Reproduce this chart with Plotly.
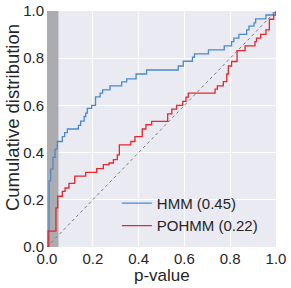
import plotly.graph_objects as go

# HMM empirical CDF of p-values (step positions and cumulative values)
hmm_p = [0.0, 0.009, 0.016, 0.026, 0.035, 0.045, 0.067, 0.077, 0.089, 0.137, 0.147,
         0.162, 0.169, 0.176, 0.195, 0.212, 0.232, 0.243, 0.275, 0.326, 0.348,
         0.389, 0.435, 0.573, 0.595, 0.635, 0.644, 0.705, 0.774, 0.806, 0.816,
         0.838, 0.872, 0.882, 0.904, 0.911, 0.956, 0.988, 1.0]
hmm_cdf = [0.0, 0.28, 0.33, 0.38, 0.415, 0.447, 0.468, 0.485, 0.50, 0.515, 0.533,
           0.553, 0.567, 0.587, 0.60, 0.636, 0.652, 0.666, 0.683, 0.70, 0.712,
           0.733, 0.75, 0.767, 0.787, 0.804, 0.818, 0.835, 0.852, 0.870, 0.885,
           0.901, 0.92, 0.936, 0.95, 0.967, 0.983, 0.992, 1.0]

# POHMM empirical CDF of p-values
pohmm_p = [0.0, 0.005, 0.039, 0.047, 0.067, 0.079, 0.096, 0.121, 0.169, 0.217, 0.246,
           0.271, 0.29, 0.307, 0.316, 0.366, 0.384, 0.416, 0.432, 0.457, 0.527,
           0.545, 0.566, 0.593, 0.607, 0.617, 0.734, 0.744, 0.770, 0.785, 0.792,
           0.806, 0.830, 0.865, 0.908, 0.915, 0.933, 0.956, 0.971, 0.99, 1.0]
pohmm_cdf = [0.0, 0.067, 0.166, 0.215, 0.236, 0.25, 0.27, 0.30, 0.316, 0.332, 0.349,
             0.356, 0.37, 0.39, 0.433, 0.447, 0.468, 0.50, 0.518, 0.532, 0.564,
             0.584, 0.60, 0.617, 0.635, 0.652, 0.669, 0.683, 0.701, 0.733, 0.767,
             0.786, 0.832, 0.852, 0.870, 0.885, 0.901, 0.92, 0.965, 0.983, 1.0]

legend_names = ["HMM (0.45)", "POHMM (0.22)"]
tick_vals = [0.0, 0.2, 0.4, 0.6, 0.8, 1.0]
tick_text = ["0.0", "0.2", "0.4", "0.6", "0.8", "1.0"]
x_title = "p-value"
y_title = "Cumulative distribution"
alpha_level = 0.05
diag = [0.0, 1.0]

FONT = "Liberation Sans, Arial, sans-serif"
TXT = "#262626"

fig = go.Figure()

fig.add_shape(type="rect", xref="x", yref="y", x0=0, x1=alpha_level, y0=0, y1=1,
              fillcolor="#ABABB0", line_width=0, layer="between")

fig.add_trace(go.Scatter(x=diag, y=diag, mode="lines", showlegend=False,
                         line=dict(color="#7a7a7a", width=1, dash="3px,3px"),
                         hoverinfo="skip"))

fig.add_trace(go.Scatter(x=hmm_p, y=hmm_cdf, mode="lines", name=legend_names[0],
                         line=dict(color="#4A8BCB", width=1.3, shape="hv")))
fig.add_trace(go.Scatter(x=pohmm_p, y=pohmm_cdf, mode="lines", name=legend_names[1],
                         line=dict(color="#E8262C", width=1.3, shape="hv")))

fig.update_layout(
    width=291, height=288,
    margin=dict(l=47, r=15, t=11, b=41),
    paper_bgcolor="white",
    plot_bgcolor="#EAEAF2",
    font=dict(family=FONT, size=15, color=TXT),
    showlegend=True,
    legend=dict(x=0.305, y=0.255, xanchor="left", yanchor="top",
                bgcolor="rgba(0,0,0,0)", font=dict(size=15, color=TXT),
                tracegroupgap=0, itemwidth=30),
    annotations=[
        dict(text=x_title, xref="paper", yref="paper", x=0.5, y=-0.119,
             xanchor="center", yanchor="middle", showarrow=False,
             font=dict(size=17, color=TXT)),
        dict(text=y_title, xref="paper", yref="paper", x=-0.151, y=0.548,
             xanchor="center", yanchor="middle", showarrow=False, textangle=-90,
             font=dict(size=18.5, color=TXT)),
    ],
)

fig.update_xaxes(range=[0, 1], tickvals=tick_vals, ticktext=tick_text,
                 showgrid=True, gridcolor="white", gridwidth=1, zeroline=False,
                 showline=False, ticks="", ticklabelstandoff=1, automargin=False)
fig.update_yaxes(range=[0, 1], tickvals=tick_vals, ticktext=tick_text,
                 showgrid=True, gridcolor="white", gridwidth=1, zeroline=False,
                 showline=False, ticks="", ticklabelstandoff=2, automargin=False)

fig.write_html("out.html", config={"displayModeBar": False},
               post_script="document.body.style.margin='0';")
